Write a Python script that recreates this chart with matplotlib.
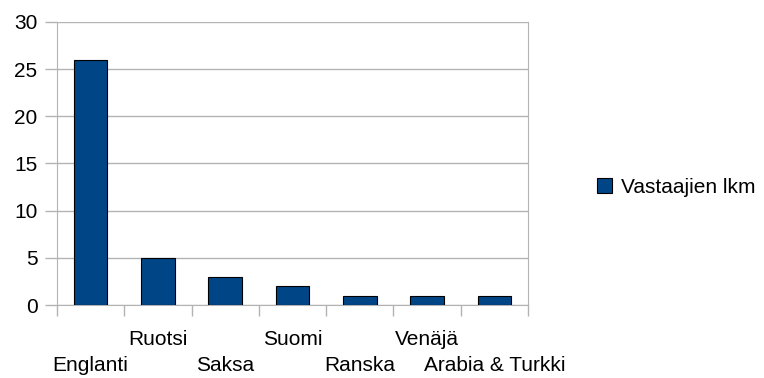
import matplotlib.pyplot as plt
import numpy as np

plt.rcParams['font.family'] = ['Liberation Sans', 'DejaVu Sans']

kielet = ['Englanti', 'Ruotsi', 'Saksa', 'Suomi', 'Ranska', 'Venäjä', 'Arabia & Turkki']
vastaajat = [26, 5, 3, 2, 1, 1, 1]
sarja = 'Vastaajien lkm'

bar_color = '#004586'
grid_color = '#b3b3b3'
fs = 15

fig = plt.figure(figsize=(7.64, 3.78), dpi=100)
ax = fig.add_axes([0.0746, 0.193, 0.6165, 0.749])

x = np.arange(len(kielet))
ax.bar(x, vastaajat, width=0.5, color=bar_color, edgecolor='black', linewidth=0.8,
       label=sarja, zorder=3)

ax.set_xlim(-0.5, len(kielet) - 0.5)
ax.set_ylim(0, 30)
ax.set_yticks(range(0, 31, 5))
ax.yaxis.grid(True, color=grid_color, linewidth=1, zorder=0)

# category labels alternate between two rows
ax.set_xticks(x)
ax.set_xticklabels(kielet)
ax.tick_params(axis='x', which='major', length=0, labelsize=fs)
for i, tick in enumerate(ax.xaxis.get_major_ticks()):
    tick.set_pad(37 if i % 2 == 0 else 18)

# tick marks between categories
ax.set_xticks(np.arange(-0.5, len(kielet), 1), minor=True)
ax.tick_params(axis='x', which='minor', length=8, width=1, color=grid_color, direction='out')
ax.tick_params(axis='y', length=8.6, width=1, color=grid_color, labelsize=fs, pad=5.5)

for s in ['left', 'right', 'bottom']:
    ax.spines[s].set_color(grid_color)
ax.spines['top'].set_visible(False)

fig.legend(loc='center left', bbox_to_anchor=(0.781, 0.505), frameon=False,
           fontsize=fs, handlelength=0.75, handleheight=0.75, handletextpad=0.4,
           borderpad=0, borderaxespad=0)

fig.savefig('out.png', dpi=100)
